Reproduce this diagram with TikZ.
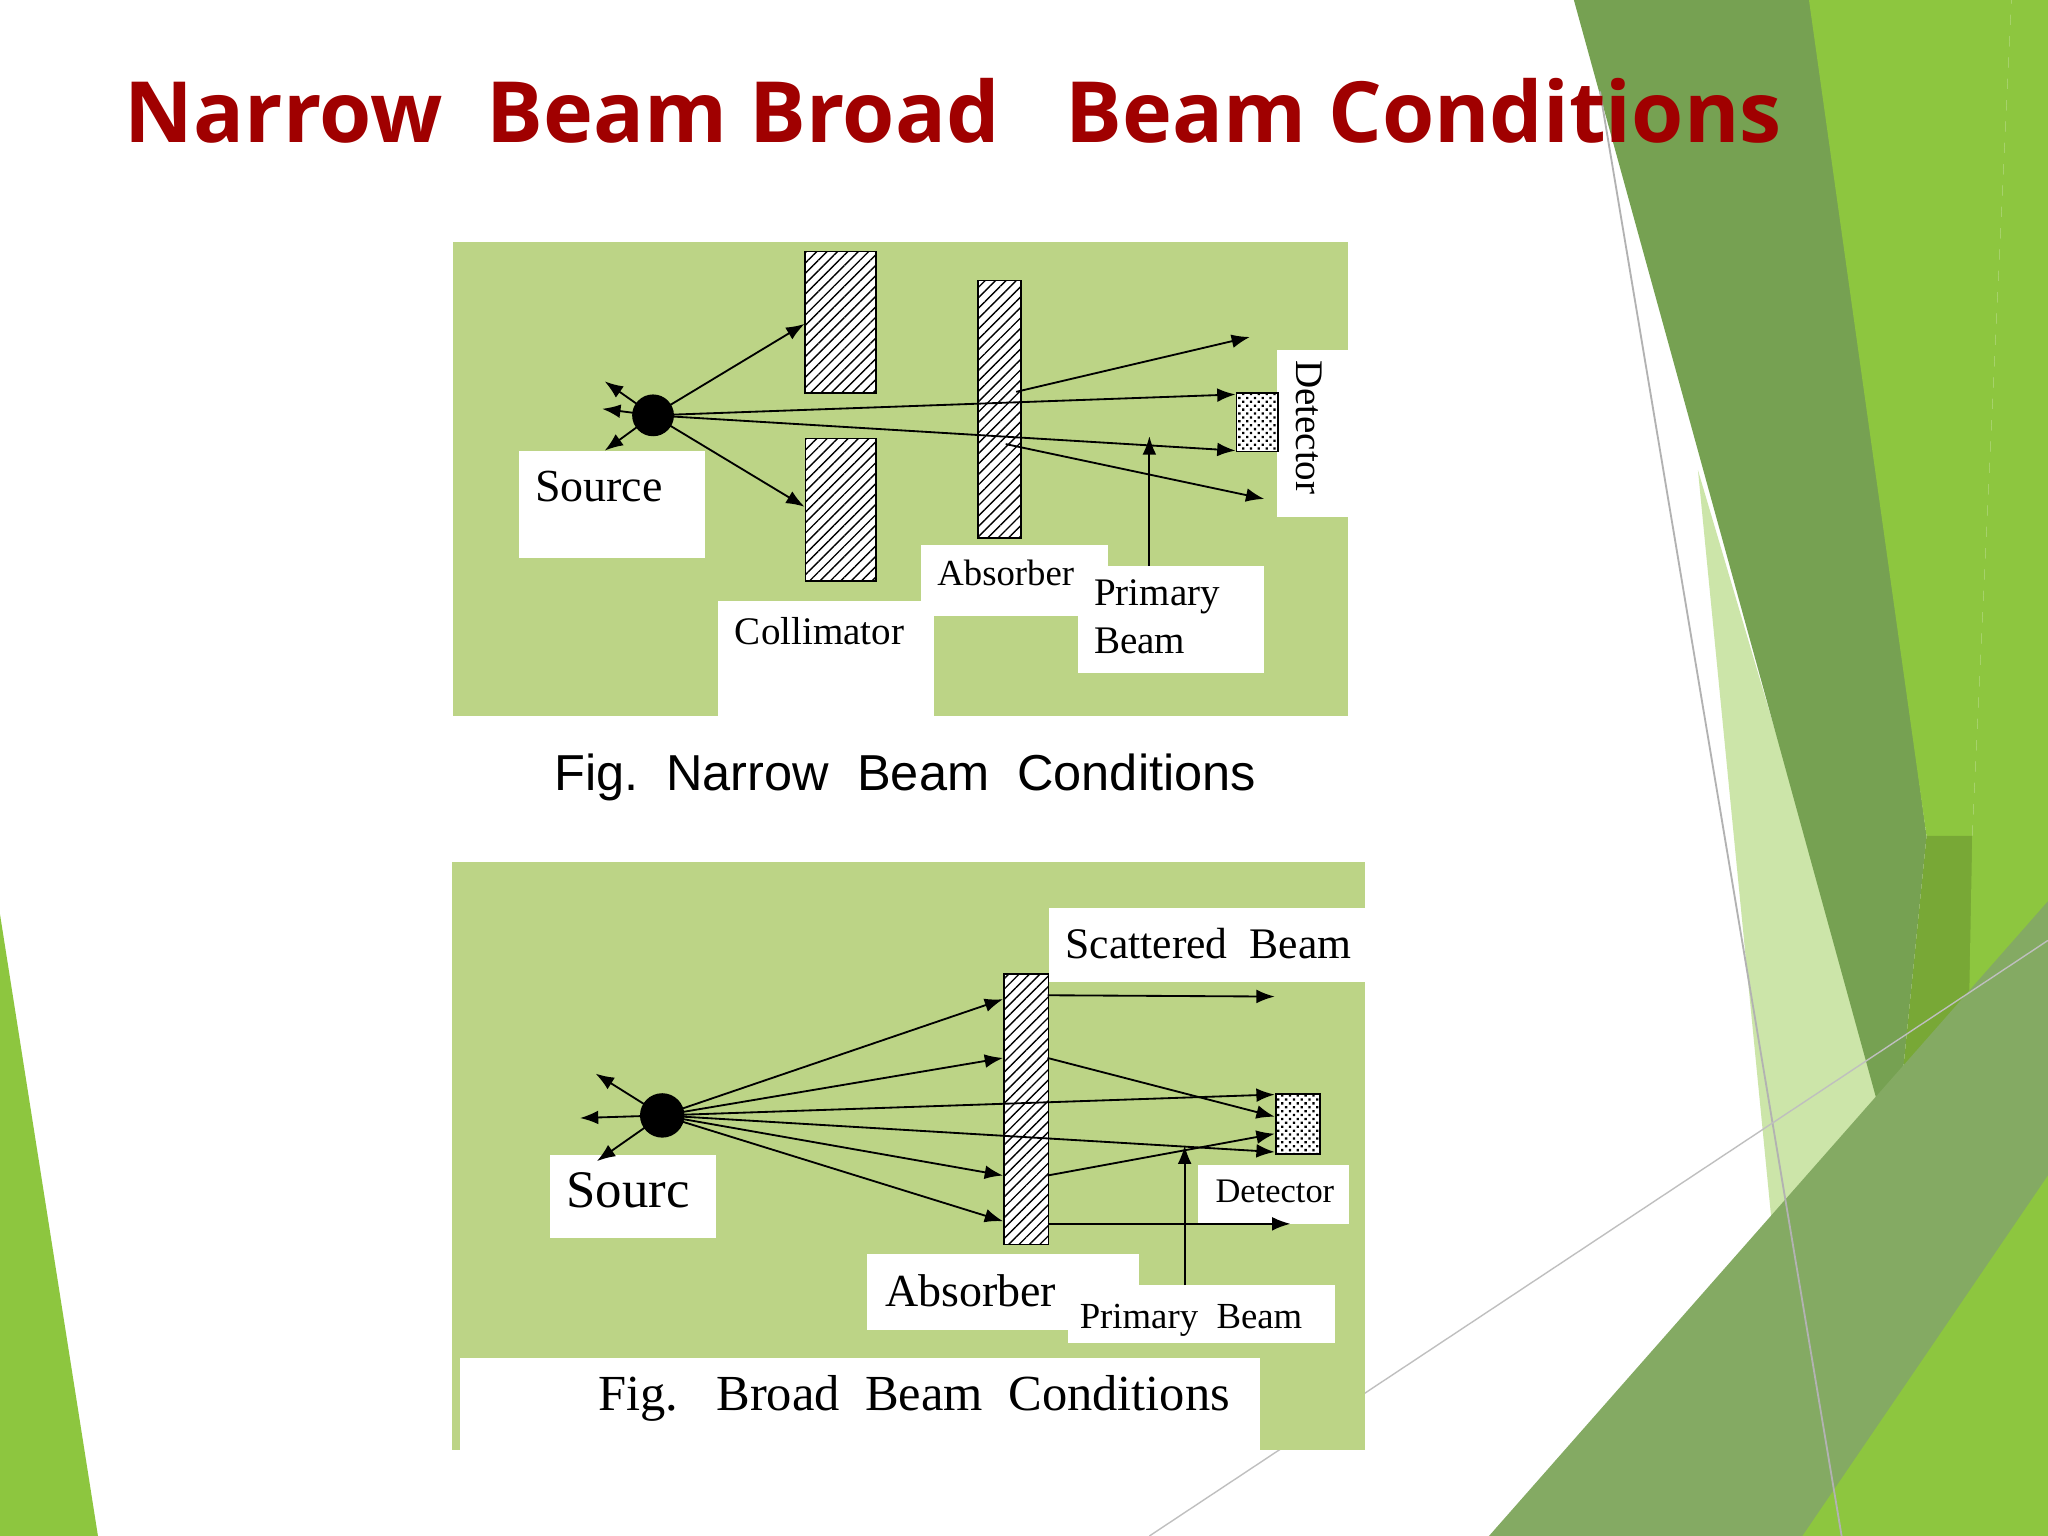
\documentclass[tikz,border=0pt]{standalone}
\usepackage{fontspec}
\setmainfont{Liberation Serif}
\newfontfamily\titlefont{Open Sans}
\newfontfamily\capfont{Liberation Sans}
\usetikzlibrary{patterns,patterns.meta,arrows.meta}
\definecolor{panel}{HTML}{BCD486}
\definecolor{dred}{HTML}{A00000}
\definecolor{gA}{HTML}{76A152}
\definecolor{gB}{HTML}{8DC63F}
\begin{document}
\begin{tikzpicture}[x=0.01cm,y=-0.01cm,
  ray/.style={-{Latex[length=4pt,width=3pt]},line width=0.4pt},
  wbox/.style={fill=white,draw=none},
  lbl/.style={font=\fontsize{9}{11}\selectfont,align=left,inner sep=0pt,anchor=north west},
  hatch/.style={draw=black,line width=0.4pt,preaction={fill=white},pattern={Lines[angle=45,distance=1.6pt,line width=0.3pt]},inner sep=0pt,anchor=north west},
  dots/.style={draw=black,line width=0.4pt,preaction={fill=white},pattern={Dots[angle=45,distance=1.2pt,radius=0.35pt]},inner sep=0pt,anchor=north west}]
\useasboundingbox (0,0) rectangle (1568,1176);
\fill[white] (0,0) rectangle (1568,1176);
% decorations
\fill[gB!45] (1300,360) -- (1460,900) -- (1420,1176) -- (1380,1176) -- cycle;
\fill[gA] (1205,0) -- (1390,0) -- (1475,640) -- (1450,890) -- cycle;
\fill[gB] (1385,0) -- (1540,0) -- (1510,640) -- (1475,640) -- cycle;
\fill[gB!85!black] (1475,640) -- (1510,640) -- (1568,900) -- (1450,890) -- cycle;
\fill[gB] (1540,0) -- (1568,0) -- (1568,1176) -- (1500,1176) -- (1510,640) -- cycle;
\fill[gA!90!white] (1140,1176) -- (1568,690) -- (1568,1176) -- cycle;
\fill[gB] (1380,1176) -- (1568,900) -- (1568,1176) -- cycle;
\fill[gB] (0,700) -- (75,1176) -- (0,1176) -- cycle;
\draw[gray!60,line width=0.4pt] (1225,70) -- (1410,1176);
\draw[gray!50,line width=0.3pt] (880,1176) -- (1568,720);
% title
\node[anchor=west,inner sep=0pt,text=dred,font=\titlefont\bfseries\fontsize{18.4}{21}\selectfont] (title) at (95,85) {Narrow~~Beam Broad~~~Beam Conditions};
% ===== narrow panel
\fill[panel] (347,185) rectangle (1032,548);
\fill[wbox] (397,345) rectangle (540,427);
\fill[wbox] (550,460) rectangle (715,548);
\fill[wbox] (705,417) rectangle (848,472);
\fill[wbox] (825,433) rectangle (968,515);
\fill[wbox] (978,268) rectangle (1032,396);
\node[lbl,font=\fontsize{10}{12}\selectfont] (ls) at (409,360) {Source};
\node[lbl,font=\fontsize{8.5}{10}\selectfont] (lc) at (562,472) {Collimator};
\node[lbl,font=\fontsize{8}{10}\selectfont] (la) at (717,428) {Absorber};
\node[lbl,font=\fontsize{8.5}{10.5}\selectfont] (lp) at (837,443) {Primary\\Beam};
\node[lbl,font=\fontsize{8.5}{10}\selectfont,rotate=-90] (ld) at (1013,275) {Detector};
\node[hatch,minimum width=0.54cm,minimum height=1.08cm] (c1) at (616,192) {};
\node[hatch,minimum width=0.54cm,minimum height=1.09cm] (c2) at (616,335) {};
\node[hatch,minimum width=0.33cm,minimum height=1.97cm] (ab) at (748,214) {};
\node[dots,minimum width=0.32cm,minimum height=0.45cm] (det) at (946,300) {};
\node[circle,fill=black,minimum size=0.32cm,inner sep=0pt] (src) at (500,318) {};
\coordinate (n1) at (616,248); \coordinate (n2) at (616,388);
\coordinate (n3) at (946,302); \coordinate (n4) at (946,345);
\coordinate (s1) at (463,292); \coordinate (s2) at (461,313); \coordinate (s3) at (463,345);
\coordinate (a1) at (778,300); \coordinate (a2) at (957,258);
\coordinate (a3) at (770,340); \coordinate (a4) at (968,382);
\coordinate (p1) at (880,433); \coordinate (p2) at (880,334);
\foreach \t in {n1,n2,n3,n4,s1,s2,s3} \draw[ray] (src.center) -- (\t);
\draw[ray] (a1) -- (a2);
\draw[ray] (a3) -- (a4);
\draw[ray] (p1) -- (p2);
\node[font=\capfont\fontsize{11}{13}\selectfont] (cap1) at (693,595) {Fig.~~Narrow~~Beam~~Conditions};
% ===== broad panel
\fill[panel] (346,660) rectangle (1045,1110);
\fill[wbox] (803,695) rectangle (1045,752);
\fill[wbox] (421,884) rectangle (548,948);
\fill[wbox] (917,892) rectangle (1033,937);
\fill[wbox] (664,960) rectangle (872,1018);
\fill[wbox] (818,984) rectangle (1022,1028);
\fill[wbox] (352,1040) rectangle (965,1110);
\node[lbl,font=\fontsize{9.5}{11}\selectfont] (bsb) at (815,710) {Scattered~~Beam};
\node[lbl,font=\fontsize{11.5}{13}\selectfont] (bsrc) at (433,897) {Sourc};
\node[lbl,font=\fontsize{7.5}{9}\selectfont] (bdet) at (930,903) {Detector};
\node[lbl,font=\fontsize{10}{12}\selectfont] (bab) at (677,975) {Absorber};
\node[lbl,font=\fontsize{8}{10}\selectfont] (bpb) at (826,998) {Primary~~Beam};
\node[font=\fontsize{11}{13}\selectfont] (cap2) at (700,1071) {Fig.~~~Broad~~Beam~~Conditions};
\node[hatch,minimum width=0.34cm,minimum height=2.07cm] (bab2) at (768,745) {};
\node[dots,minimum width=0.34cm,minimum height=0.46cm] (bdt) at (976,837) {};
\node[circle,fill=black,minimum size=0.34cm,inner sep=0pt] (bs) at (507,854) {};
\coordinate (b1) at (768,765); \coordinate (b2) at (768,810);
\coordinate (b3) at (768,900); \coordinate (b4) at (768,935);
\coordinate (b5) at (976,838); \coordinate (b6) at (976,882);
\coordinate (t1) at (456,822); \coordinate (t2) at (444,856); \coordinate (t3) at (457,889);
\foreach \t in {b1,b2,b3,b4,b5,b6,t1,t2,t3} \draw[ray] (bs.center) -- (\t);
\coordinate (o1) at (802,762); \coordinate (e1) at (976,763);
\coordinate (o2) at (802,810); \coordinate (e2) at (976,855);
\coordinate (o3) at (802,900); \coordinate (e3) at (976,868);
\coordinate (o4) at (802,937); \coordinate (e4) at (988,937);
\draw[ray] (o1) -- (e1); \draw[ray] (o2) -- (e2);
\draw[ray] (o3) -- (e3); \draw[ray] (o4) -- (e4);
\coordinate (q1) at (907,984); \coordinate (q2) at (907,877);
\draw[ray] (q1) -- (q2);
\end{tikzpicture}
\end{document}
